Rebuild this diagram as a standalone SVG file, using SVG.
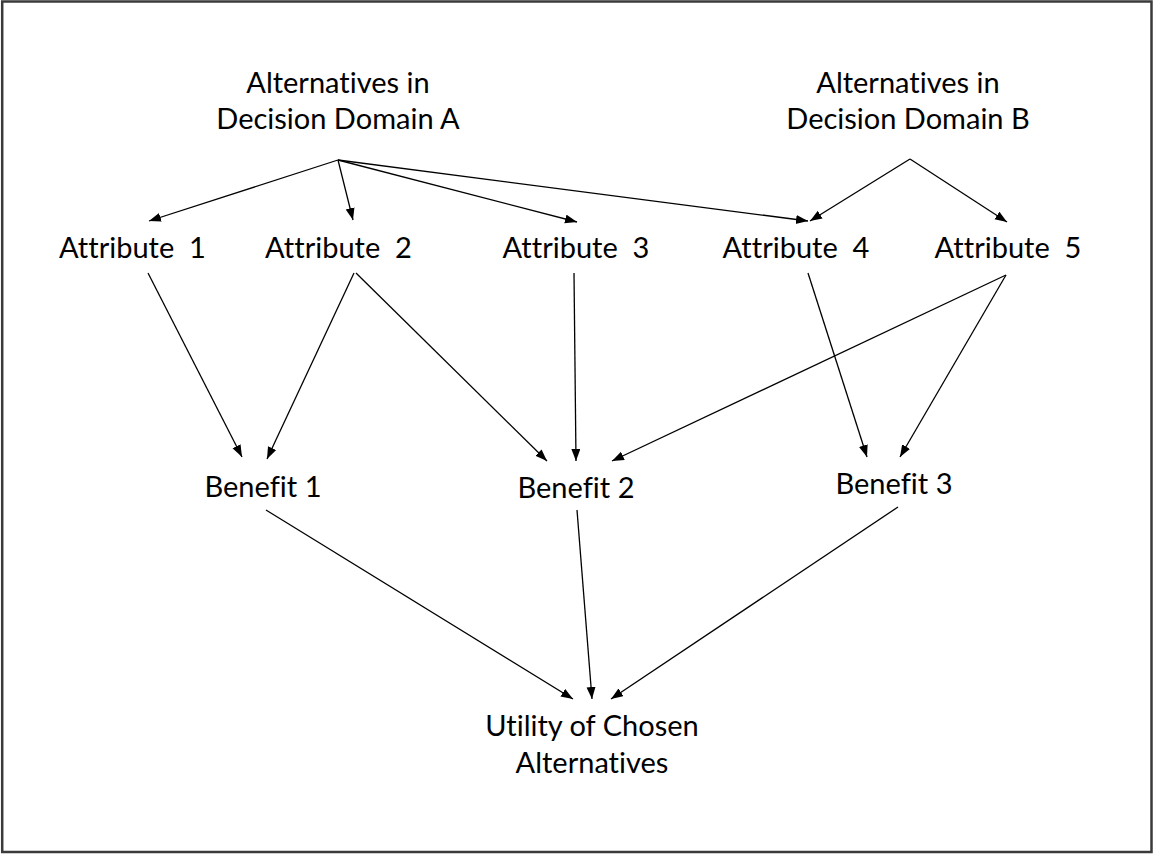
<svg xmlns="http://www.w3.org/2000/svg" width="1153" height="854" viewBox="0 0 1153 854">
<style>
text{font-family:Lato,"Liberation Sans",sans-serif;font-size:29px;fill:#000;text-anchor:middle;font-variant-ligatures:none;font-feature-settings:"liga" 0,"dlig" 0}
.c line{stroke:#000;stroke-width:1.3;marker-end:url(#ah)}
</style>
<defs>
<marker id="ah" markerUnits="userSpaceOnUse" markerWidth="13" markerHeight="10" refX="12" refY="4.5" orient="auto">
<path d="M0,0 L12,4.5 L0,9 z" fill="#000"/>
</marker>
</defs>
<rect x="0" y="0" width="1153" height="854" fill="#fff"/>
<rect x="2.2" y="1.5" width="1149.3" height="850.5" fill="none" stroke="#3a3a3a" stroke-width="2.5"/>
<g class="c" id="connectors">
<line x1="338" y1="160" x2="149" y2="221"/>
<line x1="338" y1="160" x2="353" y2="220"/>
<line x1="338" y1="160" x2="577" y2="222"/>
<line x1="338" y1="160" x2="808" y2="221"/>
<line x1="910" y1="159" x2="810" y2="221"/>
<line x1="910" y1="159" x2="1007" y2="222"/>
<line x1="148" y1="273" x2="242" y2="457"/>
<line x1="354" y1="273" x2="267" y2="459"/>
<line x1="356" y1="273" x2="547" y2="461"/>
<line x1="574" y1="273" x2="576" y2="461"/>
<line x1="1006" y1="275" x2="612" y2="461"/>
<line x1="808" y1="273" x2="867" y2="457"/>
<line x1="1006" y1="275" x2="900" y2="457"/>
<line x1="266" y1="510" x2="573" y2="699"/>
<line x1="577" y1="510" x2="592" y2="699"/>
<line x1="898" y1="507" x2="611" y2="699"/>
</g>
<g id="altA"><text x="338" y="93">Alternatives in</text><text x="338" y="129">Decision Domain A</text></g>
<g id="altB"><text x="908" y="93">Alternatives in</text><text x="908" y="129">Decision Domain B</text></g>
<g id="attr1"><text x="132.5" y="258" xml:space="preserve">Attribute  1</text></g>
<g id="attr2"><text x="338.5" y="258" xml:space="preserve">Attribute  2</text></g>
<g id="attr3"><text x="576" y="258" xml:space="preserve">Attribute  3</text></g>
<g id="attr4"><text x="796" y="258" xml:space="preserve">Attribute  4</text></g>
<g id="attr5"><text x="1008" y="258" xml:space="preserve">Attribute  5</text></g>
<g id="ben1"><text x="263" y="497">Benefit 1</text></g>
<g id="ben2"><text x="576" y="498">Benefit 2</text></g>
<g id="ben3"><text x="894" y="494">Benefit 3</text></g>
<g id="util"><text x="592" y="736">Utility of Chosen</text><text x="592" y="773">Alternatives</text></g>
</svg>
